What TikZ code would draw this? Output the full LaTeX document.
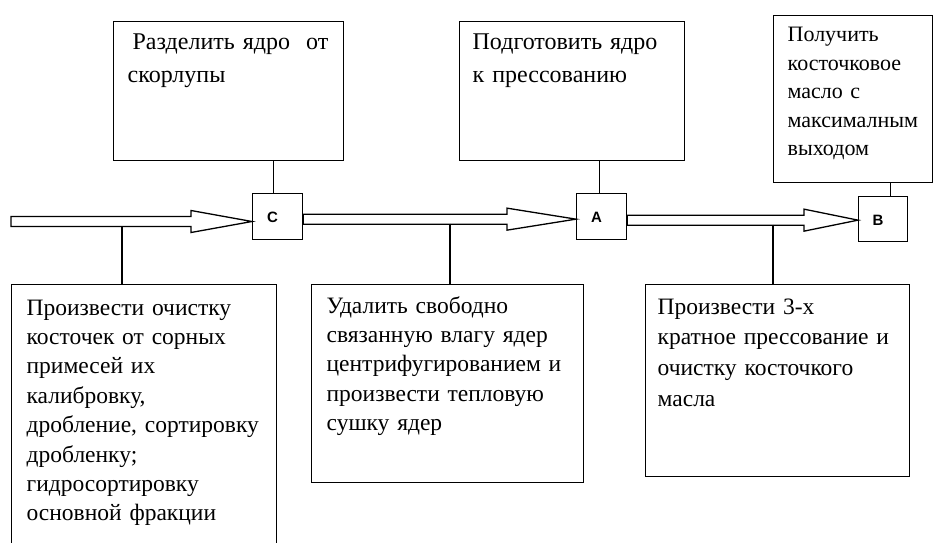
\documentclass[tikz,border=0pt]{standalone}
\usepackage{fontspec}
\setmainfont{Liberation Serif}
\newfontfamily\labelfont{Liberation Sans}
\usetikzlibrary{calc}

% hollow block arrow: #1 tail, #2 tip, #3 head length
\newcommand\hollowarrow[3]{%
  \draw[line join=miter]
    ($(#1)+(0,-5)$) -- ($(#2)+(-#3,-5)$) -- ($(#2)+(-#3,-11)$) -- (#2)
    -- ($(#2)+(-#3,11)$) -- ($(#2)+(-#3,5)$) -- ($(#1)+(0,5)$) -- cycle;}

\begin{document}
\begin{tikzpicture}[x=1pt,y=-1pt,line width=1.3pt,
  box/.style={draw,rectangle,inner sep=0pt,anchor=north west},
  tag/.style={inner sep=0pt,font=\labelfont\bfseries\fontsize{15}{15}\selectfont},
  txt/.style={anchor=base west,inner sep=0pt,text width=#1,align=left},
  big/.style={font=\fontsize{23.5}{29.4}\selectfont},
  head/.style={font=\fontsize{24}{33.5}\selectfont},
  small/.style={font=\fontsize{22}{28.5}\selectfont}]

\useasboundingbox (0,0) rectangle (934,543);
\clip (0,0) rectangle (934,543);

% goal boxes on top
\node[box,minimum width=230pt,minimum height=139pt] (t1) at (113,21) {};
\node[box,minimum width=225pt,minimum height=139pt] (t2) at (459,21) {};
\node[box,minimum width=159pt,minimum height=167pt] (t3) at (773,15) {};

% operation boxes
\node[box,minimum width=50pt,minimum height=46pt] (C) at (252,193) {};
\node[box,minimum width=50pt,minimum height=46pt] (A) at (576,193) {};
\node[box,minimum width=49pt,minimum height=45pt] (B) at (858,196) {};
\node[tag] (lc) at ([xshift=-5pt,yshift=-1pt]C.center) {C};
\node[tag] (la) at ([xshift=-5pt,yshift=-1pt]A.center) {A};
\node[tag] (lb) at ([xshift=-5pt,yshift=-1pt]B.center) {B};

% task boxes below
\node[box,minimum width=265pt,minimum height=300pt] (b1) at (11,284) {};
\node[box,minimum width=272pt,minimum height=198pt] (b2) at (311,284) {};
\node[box,minimum width=264pt,minimum height=192pt] (b3) at (645,284) {};

% main flow
\coordinate (in) at (11,221.5);
\coordinate (tipC) at (C.west |- in);
\coordinate (outC) at ($(C.east)+(0,2.5)$);
\coordinate (tipA) at (A.west |- outC);
\coordinate (outA) at ($(A.east)+(0,3.5)$);
\coordinate (tipB) at (B.west |- outA);
\hollowarrow{in}{tipC}{61}
\hollowarrow{outC}{tipA}{69}
\hollowarrow{outA}{tipB}{54}

% links to the goal boxes
\draw ([xshift=-4pt]C.north) -- ([xshift=-4pt]C.north |- t1.south);
\draw ([xshift=-2pt]A.north) -- ([xshift=-2pt]A.north |- t2.south);
\draw ([xshift=7.5pt]B.north) -- ([xshift=7.5pt]B.north |- t3.south);

% links to the task boxes
\coordinate (j1) at (122,226.5);
\coordinate (j2) at (450,223.5);
\coordinate (j3) at (773,224.5);
\draw (j1) -- (j1 |- b1.north);
\draw (j2) -- (j2 |- b2.north);
\draw (j3) -- (j3 |- b3.north);

% texts
\node[txt=210pt,head] (tt1) at (127,49.3) {\hspace*{5pt}Разделить ядро\hspace{16pt}от\\скорлупы};
\node[txt=205pt,head] (tt2) at (472,49.3) {Подготовить ядро\\к прессованию};
\node[txt=140pt,small] (tt3) at (787,42) {Получить\\косточковое\\масло с\\максималным\\выходом};
\node[txt=250pt,big] (tb1) at (26,315) {Произвести очистку\\косточек от сорных\\примесей их\\калибровку,\\дробление, сортировку\\дробленку;\\гидросортировку\\основной фракции};
\node[txt=255pt,big] (tb2) at (326,313) {Удалить свободно\\связанную влагу ядер\\центрифугированием и\\произвести тепловую\\сушку ядер};
\node[txt=245pt,big,font=\fontsize{23.5}{30.7}\selectfont] (tb3) at (657,314) {Произвести 3-х\\кратное прессование и\\очистку косточкого\\масла};
\end{tikzpicture}
\end{document}
